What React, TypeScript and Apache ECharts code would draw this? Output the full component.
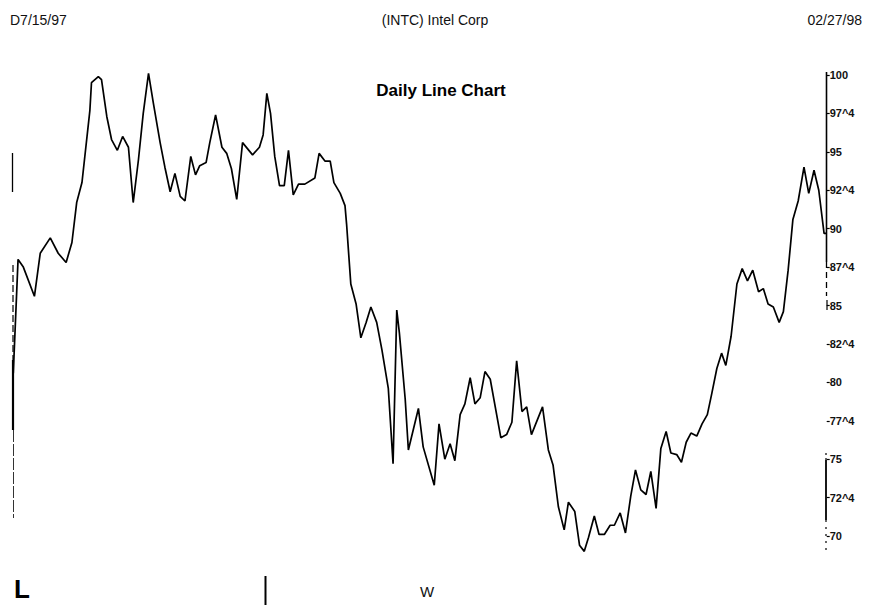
import React, { useEffect, useRef } from "react";
import * as echarts from "echarts";

// Trading-day offset from 07/15/97 and closing price
const day = [
  0, 0.9, 1.9, 4.0, 5.1, 7.0, 8.5, 10.0, 11.1, 12.0,
  13.0, 14.5, 14.8, 16.1, 16.7, 17.7, 18.6, 19.7, 20.7, 21.8,
  22.7, 23.7, 24.6, 25.6, 26.5, 27.8, 28.7, 29.7, 30.6, 31.6,
  32.5, 33.6, 34.5, 35.3, 36.5, 37.2, 38.3, 39.5, 40.4, 41.3,
  42.3, 43.4, 45.3, 46.6, 47.3, 48.0, 48.7, 49.5, 50.4, 51.3,
  52.1, 53.0, 54.0, 55.2, 57.1, 57.9, 59.0, 60.0, 60.7, 61.9,
  62.8, 63.1, 63.9, 64.9, 65.8, 66.8, 67.7, 68.8, 69.8, 71.0,
  71.9, 72.6, 73.1, 74.2, 74.8, 76.7, 77.6, 79.7, 80.6, 81.7,
  82.7, 83.6, 84.6, 85.5, 86.5, 87.4, 88.4, 89.3, 90.3, 92.3,
  93.4, 94.4, 95.3, 96.3, 97.2, 98.1, 100.2, 101.3, 102.2, 103.2,
  104.3, 105.1, 106.3, 107.2, 108.1, 108.9, 110.0, 110.9, 111.9, 113.0,
  113.8, 114.9, 115.9, 116.9, 117.8, 118.8, 119.8, 120.7, 121.7, 122.6,
  123.6, 124.5, 125.6, 126.5, 127.4, 128.3, 129.4, 130.4, 131.4, 132.2,
  133.2, 134.1, 134.9, 135.9, 137.0, 138.0, 139.0, 140.0, 141.1, 142.0,
  142.9, 143.9, 145.0, 145.8, 146.7, 147.6, 148.6, 149.7, 150.6, 151.6,
  152.5, 153.5, 154.0,
];

const price = [
  80.6, 88.0, 87.5, 85.6, 88.4, 89.4, 88.4, 87.8, 89.1, 91.7,
  93.0, 97.7, 99.5, 99.9, 99.7, 97.3, 95.8, 95.1, 96.0, 95.3,
  91.7, 94.5, 97.5, 100.1, 98.2, 95.6, 94.0, 92.4, 93.6, 92.1,
  91.8, 94.7, 93.5, 94.1, 94.3, 95.6, 97.4, 95.3, 94.9, 93.9,
  91.9, 95.6, 94.8, 95.3, 96.1, 98.8, 97.5, 94.7, 92.8, 92.8,
  95.1, 92.2, 92.9, 92.9, 93.3, 94.9, 94.4, 94.4, 93.0, 92.3,
  91.5, 90.3, 86.4, 85.1, 82.9, 83.9, 84.9, 83.9, 82.1, 79.6,
  74.7, 84.7, 83.2, 78.9, 75.6, 78.3, 75.8, 73.3, 77.3, 75.0,
  76.0, 74.9, 77.9, 78.6, 80.3, 78.6, 79.0, 80.7, 80.2, 76.4,
  76.6, 77.4, 81.4, 78.1, 78.4, 76.6, 78.4, 75.6, 74.6, 71.9,
  70.4, 72.2, 71.6, 69.4, 69.0, 69.9, 71.3, 70.1, 70.1, 70.7,
  70.7, 71.5, 70.2, 72.6, 74.3, 73.0, 72.7, 74.2, 71.8, 75.7,
  76.8, 75.4, 75.3, 74.8, 76.1, 76.7, 76.5, 77.3, 77.9, 79.2,
  80.9, 81.9, 81.1, 83.0, 86.4, 87.4, 86.6, 87.3, 85.9, 86.1,
  85.1, 84.9, 83.9, 84.6, 87.3, 90.6, 91.8, 94.0, 92.3, 93.8,
  92.5, 89.7, 89.7,
];

const tickValues = [70, 72.5, 75, 77.5, 80, 82.5, 85, 87.5, 90, 92.5, 95, 97.5, 100];
const tickLabels = ["70", "72^4", "75", "77^4", "80", "82^4", "85", "87^4", "90", "92^4", "95", "97^4", "100"];

const startLabel = "D7/15/97";
const headerLabel = "(INTC) Intel Corp";
const endLabel = "02/27/98";
const chartTitle = "Daily Line Chart";

const FONT = "'Liberation Sans', Arial, Helvetica, sans-serif";

export default function App() {
  const ref = useRef<HTMLDivElement>(null);

  useEffect(() => {
    if (!ref.current) return;
    const chart = echarts.init(ref.current, undefined, { renderer: "svg" });

    const seg = (x1: number, y1: number, x2: number, y2: number, w: number, dash?: number[], color = "#000") => ({
      type: "line",
      shape: { x1, y1, x2, y2 },
      style: { stroke: color, lineWidth: w, lineDash: dash },
      silent: true,
    });

    chart.setOption({
      animation: false,
      backgroundColor: "#ffffff",
      grid: { left: 13.3, right: 46.3, top: 75, bottom: 69, containLabel: false },
      xAxis: {
        type: "value",
        min: 0,
        max: 154,
        show: false,
      },
      yAxis: {
        type: "value",
        position: "right",
        min: 70,
        max: 100,
        interval: 2.5,
        splitLine: { show: false },
        axisLine: { show: false, onZero: false },
        axisTick: { show: true, length: 3, lineStyle: { color: "#000", width: 1.2 } },
        axisLabel: {
          margin: 3,
          color: "#111",
          fontFamily: FONT,
          fontSize: 11,
          fontWeight: "bold",
          formatter: (v: number) => {
            const i = tickValues.findIndex((t) => Math.abs(t - v) < 0.01);
            return i >= 0 ? tickLabels[i] : "";
          },
        },
      },
      series: [
        {
          type: "line",
          data: day.map((d, i) => [d, price[i]]),
          showSymbol: false,
          clip: false,
          lineStyle: { color: "#000", width: 1.7 },
          itemStyle: { color: "#000" },
        },
      ],
      graphic: [
        { type: "text", x: 10, y: 20, style: { text: startLabel, font: `14px ${FONT}`, fill: "#111", textAlign: "left", textVerticalAlign: "middle" } },
        { type: "text", x: 435, y: 20, style: { text: headerLabel, font: `14px ${FONT}`, fill: "#111", textAlign: "center", textVerticalAlign: "middle" } },
        { type: "text", x: 862, y: 20, style: { text: endLabel, font: `14px ${FONT}`, fill: "#111", textAlign: "right", textVerticalAlign: "middle" } },
        { type: "text", x: 441, y: 90, style: { text: chartTitle, font: `bold 17px ${FONT}`, fill: "#000", textAlign: "center", textVerticalAlign: "middle" } },
        { type: "text", x: 14, y: 589, style: { text: "L", font: `bold 26px ${FONT}`, fill: "#000", textAlign: "left", textVerticalAlign: "middle" } },
        { type: "text", x: 427, y: 591, style: { text: "W", font: `15px ${FONT}`, fill: "#111", textAlign: "center", textVerticalAlign: "middle" } },
        seg(265.5, 576, 265.5, 605, 2),
        // left scanned axis fragments
        seg(12.5, 153, 12.5, 192, 1.3),
        seg(13, 265, 13, 360, 1.2, [7, 3]),
        seg(13, 360, 13, 430, 2.2),
        seg(13.5, 430, 13.5, 518, 1, [12, 2], "#333"),
        // right scanned axis fragments
        seg(826.5, 72, 826.5, 262, 1.6),
        seg(826.5, 262, 826.5, 296, 1.3, [6, 4]),
        seg(827, 300, 827, 310, 1.2),
        seg(826, 453, 826, 460, 1.2, [2, 3]),
        seg(826, 460, 826, 520, 1.8),
        seg(826, 520, 826, 555, 1.2, [2, 5]),
      ],
    });

    return () => chart.dispose();
  }, []);

  return (
    <div
      ref={ref}
      style={{ position: "fixed", left: 0, top: 0, width: 873, height: 605, background: "#fff" }}
    />
  );
}
